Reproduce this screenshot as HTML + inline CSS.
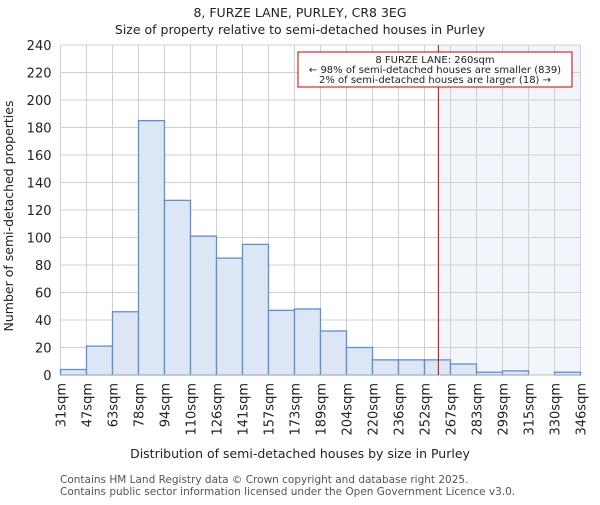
<!DOCTYPE html>
<html><head><meta charset="utf-8"><style>
body{margin:0;background:#fff;}
svg text{font-family:"DejaVu Sans","Liberation Sans",sans-serif;fill:#222;}
</style></head><body>
<svg id="c" width="600" height="500" xmlns="http://www.w3.org/2000/svg">
<text x="300" y="17" text-anchor="middle" font-size="12.5">8, FURZE LANE, PURLEY, CR8 3EG</text>
<text x="300" y="34" text-anchor="middle" font-size="12.5">Size of property relative to semi-detached houses in Purley</text>
<g id="shade"></g><g id="grid"></g><g id="bars"></g><g id="axes"></g>
<text x="300" y="458" text-anchor="middle" font-size="12.5">Distribution of semi-detached houses by size in Purley</text>
<text transform="translate(13,216) rotate(-90)" text-anchor="middle" font-size="12.5">Number of semi-detached properties</text>
<text x="60" y="483" font-size="10.5" style="fill:#555">Contains HM Land Registry data © Crown copyright and database right 2025.</text>
<text x="60" y="495" font-size="10.5" style="fill:#555">Contains public sector information licensed under the Open Government Licence v3.0.</text>
</svg>
<script>
const binEdges=["31sqm","47sqm","63sqm","78sqm","94sqm","110sqm","126sqm","141sqm","157sqm","173sqm","189sqm","204sqm","220sqm","236sqm","252sqm","267sqm","283sqm","299sqm","315sqm","330sqm","346sqm"];
const binStart=[31,47,63,78,94,110,126,141,157,173,189,204,220,236,252,267,283,299,315,330,346];
const counts=[4,21,46,185,127,101,85,95,47,48,32,20,11,11,11,8,2,3,0,2];
const yTicks=[0,20,40,60,80,100,120,140,160,180,200,220,240];
const propertySize=260;
const ns="http://www.w3.org/2000/svg";
const L=60.5,R=580.5,T=45,B=375,yMax=240;
const nb=counts.length,bw=(R-L)/nb;
const xi=i=>L+i*bw;
const xv=v=>{for(let i=0;i<binStart.length-1;i++){if(v<=binStart[i+1])return xi(i)+(v-binStart[i])/(binStart[i+1]-binStart[i])*bw;}return R;};
const y=v=>B-v/yMax*(B-T);
function mk(t,a,p){const e=document.createElementNS(ns,t);for(const k in a)e.setAttribute(k,a[k]);p.appendChild(e);return e;}
const shade=document.getElementById('shade'),grid=document.getElementById('grid'),bars=document.getElementById('bars'),axes=document.getElementById('axes');
const px=xv(propertySize);
const sh=mk('rect',{x:px,y:T,width:R-px,height:B-T,fill:'#f2f5fc'},shade);


yTicks.forEach(v=>{const l=mk('line',{x1:L,x2:R,y1:y(v),y2:y(v),stroke:'#d0d0d0'},grid);


const t=mk('text',{x:L-9,y:y(v)+5,'text-anchor':'end','font-size':'13'},axes);t.textContent=v;

});
binEdges.forEach((s,i)=>{const l=mk('line',{x1:xi(i),x2:xi(i),y1:T,y2:B,stroke:'#d0d0d0'},grid);


const t=mk('text',{transform:`translate(${xi(i)+5},383) rotate(-90)`,'text-anchor':'end','font-size':'13'},axes);t.textContent=s;

});
counts.forEach((c,i)=>{if(c<=0)return;const r=mk('rect',{x:xi(i),y:y(c),width:bw,height:B-y(c),fill:'#dce6f4',stroke:'#5b8fd6','stroke-width':1.3},bars);

});
const ax=mk('line',{x1:L,x2:R,y1:B,y2:B,stroke:'#bbb'},axes);


const rl=mk('line',{x1:px,x2:px,y1:T,y2:B,stroke:'#cc0000','stroke-width':1},axes);


const g=mk('g',{},axes);


mk('rect',{x:298,y:52,width:274,height:35,fill:'#fff',stroke:'#cc0000','stroke-width':1},g);
[["8 FURZE LANE: 260sqm",63],["← 98% of semi-detached houses are smaller (839)",73],["2% of semi-detached houses are larger (18) →",83]].forEach(([s,yy])=>{const t=mk('text',{x:435,y:yy,'text-anchor':'middle','font-size':'10'},g);t.textContent=s;

});
</script>
</body></html>
